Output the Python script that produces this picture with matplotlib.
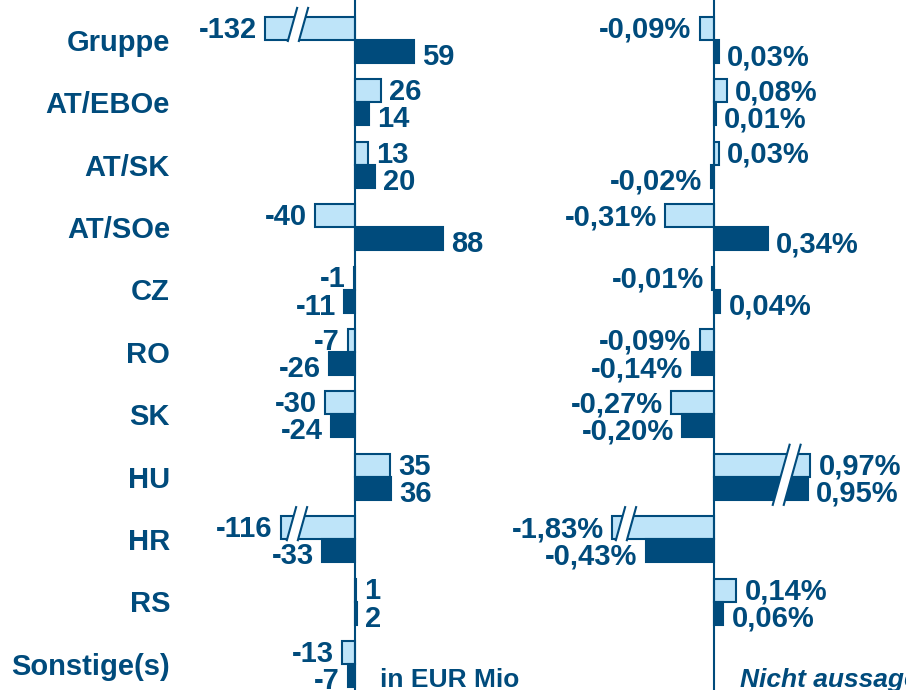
import matplotlib.pyplot as plt
import numpy as np

plt.rcParams['font.family'] = ['Liberation Sans', 'DejaVu Sans']

categories = ['Gruppe', 'AT/EBOe', 'AT/SK', 'AT/SOe', 'CZ', 'RO', 'SK',
              'HU', 'HR', 'RS', 'Sonstige(s)']
eur_prev = [-132, 26, 13, -40, -1, -7, -30, 35, -116, 1, -13]
eur_curr = [59, 14, 20, 88, -11, -26, -24, 36, -33, 2, -7]
pct_prev = [-0.09, 0.08, 0.03, -0.31, -0.01, -0.09, -0.27, 0.97, -1.83, 0.14, None]
pct_curr = [0.03, 0.01, -0.02, 0.34, 0.04, -0.14, -0.20, 0.95, -0.43, 0.06, None]

# axis breaks: (series, row) -> drawn length, plus where the // mark sits
eur_breaks = {('prev', 0): (-90, -57), ('prev', 8): (-74, -58)}
pct_breaks = {('prev', 7): (0.61, 0.46), ('curr', 7): (0.595, 0.46),
              ('prev', 8): (-0.645, -0.557)}

navy = '#004B7C'
light = '#BEE4F9'
W, H = 906, 690
row_px = 62.4
bar_h = 0.37

fig = plt.figure(figsize=(9.06, 6.9), dpi=100)
axL = fig.add_axes([0, 0, 540 / W, 1])
axR = fig.add_axes([540 / W, 0, 366 / W, 1])

pctscale = 158.0  # px per percent
axL.set_xlim(-355, 185)
axR.set_xlim((540 - 714) / pctscale, (906 - 714) / pctscale)
for ax in (axL, axR):
    ax.set_ylim(10 + (H - 664) / row_px, -40 / row_px)
    ax.axis('off')
    ax.axvline(0, color=navy, lw=1.5, zorder=5)


def fmt_eur(v):
    return f'{v:d}'


def fmt_pct(v):
    return f'{v:.2f}'.replace('.', ',') + '%'


def draw_break(ax, xc, y0, y1, ppu):
    # white gap with two slanted lines, all sizes in px
    slant = 0.28 * (y1 - y0) * row_px / ppu
    gap = 11 / ppu
    xs_top = [xc - gap / 2 + slant / 2, xc + gap / 2 + slant / 2]
    xs_bot = [xc - gap / 2 - slant / 2, xc + gap / 2 - slant / 2]
    ax.fill([xs_bot[0], xs_top[0], xs_top[1], xs_bot[1]], [y1, y0, y0, y1],
            color='white', zorder=3, lw=0)
    for a, b in zip(xs_bot, xs_top):
        ax.plot([a, b], [y1, y0], color=navy, lw=1.5, zorder=4,
                solid_capstyle='butt')


def panel(ax, prev, curr, breaks, fmt, ppu):
    y = np.arange(len(prev))
    for name, vals, off, fc, dy in (('prev', prev, -bar_h / 2, light, -1),
                                    ('curr', curr, bar_h / 2, navy, -4)):
        for i, v in enumerate(vals):
            if v is None:
                continue
            shown = breaks.get((name, i), (v, None))[0]
            ax.barh(y[i] + off, shown, height=bar_h, color=fc,
                    edgecolor=navy, lw=1.5, zorder=2)
            ax.annotate(fmt(v), (shown, y[i] + off),
                        xytext=(6 if v >= 0 else -6, dy), textcoords='offset points',
                        ha='left' if v >= 0 else 'right', va='center',
                        fontsize=21, fontweight='bold', color=navy,
                        annotation_clip=False)
    done = set()
    for (name, i), (shown, xc) in breaks.items():
        if (i, xc) in done:
            continue
        done.add((i, xc))
        both = [k for k in breaks if k[1] == i and breaks[k][1] == xc]
        top = -bar_h - 10 / row_px
        bot = 0 + 2 / row_px
        if any(k[0] == 'curr' for k in both):
            bot = bar_h + 6 / row_px
        draw_break(ax, xc, y[i] + top, y[i] + bot, ppu)


panel(axL, eur_prev, eur_curr, eur_breaks, fmt_eur, 1.0)
panel(axR, pct_prev, pct_curr, pct_breaks, fmt_pct, pctscale)

for i, c in enumerate(categories):
    axL.annotate(c, (-185, i), xytext=(0, -2), textcoords='offset points',
                 ha='right', va='center', fontsize=21,
                 fontweight='bold', color=navy)

axL.text(25, 10.25, 'in EUR Mio', ha='left', va='center', fontsize=19,
         fontweight='bold', color=navy)
axR.text(26 / pctscale, 10.25, 'Nicht aussagekräftig', ha='left', va='center',
         fontsize=19, fontweight='bold', fontstyle='italic', color=navy,
         clip_on=False)

fig.savefig('out.png', dpi=100)
